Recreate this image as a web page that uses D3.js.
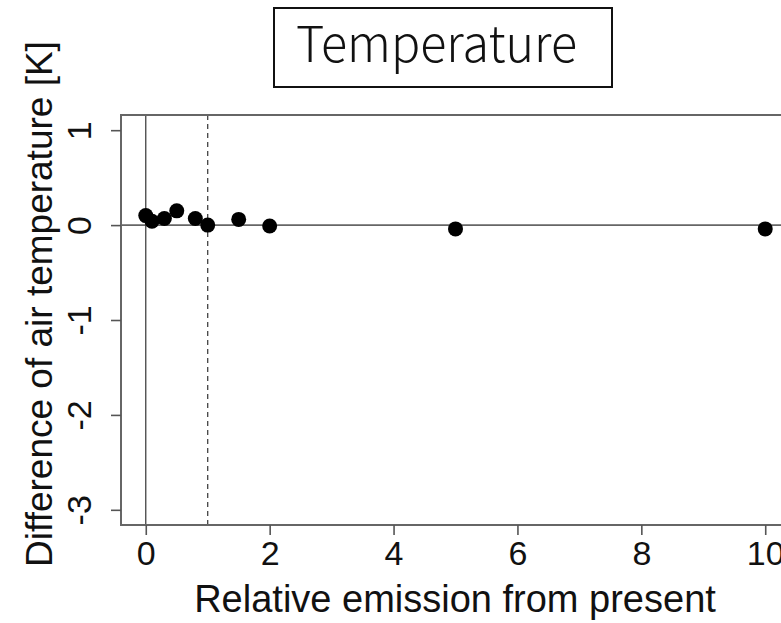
<!DOCTYPE html>
<html>
<head>
<meta charset="utf-8">
<script src="https://cdn.jsdelivr.net/npm/d3@7"></script>
<style>
  body { margin: 0; background: #fff; }
  text { font-family: "Liberation Sans", Arial, sans-serif; fill: #111; }
</style>
</head>
<body>
<svg width="781" height="623"></svg>
<script>
// relative emission (x) vs temperature difference (y)
var emission = [0, 0.1, 0.3, 0.5, 0.8, 1, 1.5, 2, 5, 10];
var tempDiff = [0.1, 0.04, 0.07, 0.15, 0.07, 0.0, 0.06, -0.01, -0.04, -0.04];
var xTicks = [0, 2, 4, 6, 8, 10];
var yTicks = [1, 0, -1, -2, -3];

var svg = d3.select("svg");

// R style: data range plus 4% each side
var x = d3.scaleLinear().domain([-0.4, 10.4]).range([121, 790]);
var y = d3.scaleLinear().domain([-3.16, 1.16]).range([525, 115]);

// reference lines
svg.append("line")
  .attr("x1", x(-0.4)).attr("x2", x(10.4))
  .attr("y1", y(0)).attr("y2", y(0))
  .style("stroke", "#666").style("stroke-width", 1.6);

svg.append("line")
  .attr("x1", x(0)).attr("x2", x(0))
  .attr("y1", y(1.16)).attr("y2", y(-3.16))
  .style("stroke", "#333").style("stroke-width", 1.2);

svg.append("line")
  .attr("x1", x(1)).attr("x2", x(1))
  .attr("y1", y(1.16)).attr("y2", y(-3.16))
  .style("stroke", "#333").style("stroke-width", 1.2)
  .style("stroke-dasharray", "5,4");

// box
svg.append("rect")
  .attr("x", 121).attr("y", 115)
  .attr("width", 700).attr("height", 410)
  .style("fill", "none").style("stroke", "#666").style("stroke-width", 2);

// axes (plain hyphen minus like R)
var fmt = function (d) { return String(d); };
var xAxis = svg.append("g")
  .attr("transform", "translate(0,525)")
  .call(d3.axisBottom(x).tickValues(xTicks).tickSize(10).tickPadding(6).tickFormat(fmt));
var yAxis = svg.append("g")
  .attr("transform", "translate(121,0)")
  .call(d3.axisLeft(y).tickValues(yTicks).tickSize(10).tickFormat(fmt));

[xAxis, yAxis].forEach(function (a) {
  a.select(".domain").remove();
  a.selectAll(".tick line").style("stroke", "#555").style("stroke-width", 1.6);
  a.selectAll("text").style("font-size", "34px").style("font-family", "Liberation Sans, Arial, sans-serif").style("fill", "#111");
});

// y tick labels are parallel to the axis
yAxis.selectAll(".tick text")
  .attr("x", null).attr("dy", null)
  .attr("text-anchor", "middle")
  .attr("transform", "translate(-30,0) rotate(-90)")
  .attr("y", 0);

// points
svg.append("g").selectAll("circle")
  .data(emission)
  .enter()
  .append("circle")
  .attr("cx", function (d) { return x(d); })
  .attr("cy", function (d, i) { return y(tempDiff[i]); })
  .attr("r", 7.5)
  .style("fill", "#000");

// axis titles
svg.append("text")
  .attr("x", 455).attr("y", 612)
  .attr("text-anchor", "middle")
  .style("font-size", "38px")
  .text("Relative emission from present");

svg.append("text")
  .attr("transform", "translate(52,304) rotate(-90)")
  .attr("text-anchor", "middle")
  .style("font-size", "37px")
  .text("Difference of air temperature [K]");

// title box
svg.append("rect")
  .attr("x", 274).attr("y", 8)
  .attr("width", 338).attr("height", 79)
  .style("fill", "#fff").style("stroke", "#111").style("stroke-width", 2);

svg.append("text")
  .attr("x", 296).attr("y", 62)
  .attr("textLength", 281).attr("lengthAdjust", "spacingAndGlyphs")
  .style("font-family", "Noto Sans CJK JP, Noto Sans, sans-serif")
  .style("font-size", "50px")
  .style("font-weight", 300)
  .text("Temperature");
</script>
</body>
</html>
